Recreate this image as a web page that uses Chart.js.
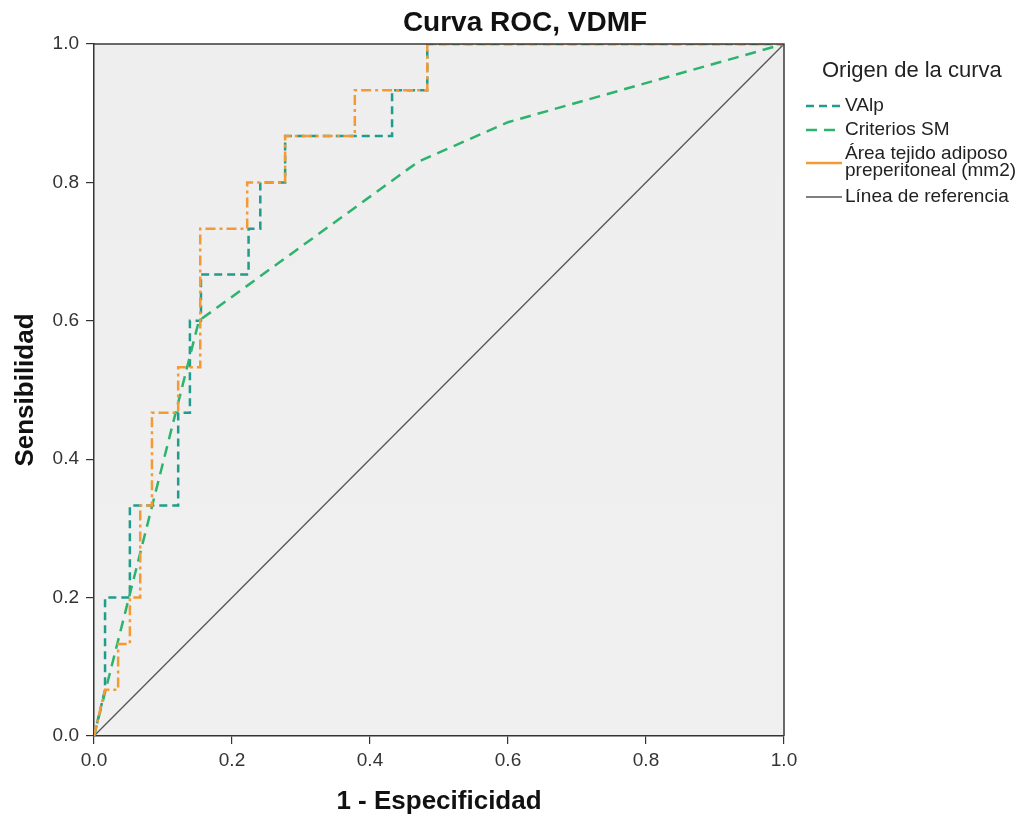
<!DOCTYPE html>
<html>
<head>
<meta charset="utf-8">
<script src="https://cdn.jsdelivr.net/npm/chart.js@4.4.1/dist/chart.umd.min.js"></script>
<style>
  html, body { margin: 0; padding: 0; background: #ffffff; }
  #wrap { width: 1021px; height: 819px; position: relative; }
</style>
</head>
<body>
<div id="wrap"><canvas id="c" width="1021" height="819"></canvas></div>
<script>
// ---- Data ----
const chartTitle = "Curva ROC, VDMF";
const xAxisTitle = "1 - Especificidad";
const yAxisTitle = "Sensibilidad";
const legendTitle = "Origen de la curva";
const seriesNames = ["VAlp", "Criterios SM", ["Área tejido adiposo", "preperitoneal (mm2)"], "Línea de referencia"];
const tickValues = [0.0, 0.2, 0.4, 0.6, 0.8, 1.0];

const vAlpX = [0, 0.016, 0.016, 0.052, 0.052, 0.122, 0.122, 0.139, 0.139, 0.155, 0.155, 0.224, 0.224, 0.241, 0.241, 0.277, 0.277, 0.432, 0.432, 0.483, 0.483, 1];
const vAlpY = [0, 0.067, 0.200, 0.200, 0.333, 0.333, 0.467, 0.467, 0.600, 0.600, 0.667, 0.667, 0.733, 0.733, 0.800, 0.800, 0.867, 0.867, 0.933, 0.933, 1.000, 1];

const critX = [0, 0.152, 0.470, 0.600, 1];
const critY = [0, 0.600, 0.830, 0.887, 1];

const areaX = [0, 0.016, 0.035, 0.035, 0.052, 0.052, 0.067, 0.067, 0.084, 0.084, 0.122, 0.122, 0.154, 0.154, 0.222, 0.222, 0.277, 0.277, 0.378, 0.378, 0.483, 0.483, 1];
const areaY = [0, 0.067, 0.067, 0.133, 0.133, 0.200, 0.200, 0.333, 0.333, 0.467, 0.467, 0.533, 0.533, 0.733, 0.733, 0.800, 0.800, 0.867, 0.867, 0.933, 0.933, 1.000, 1];

const refX = [0, 1];
const refY = [0, 1];

// ---- Styles ----
const COL_VALP = "#1f9c8c";
const COL_CRIT = "#2db36e";
const COL_AREA = "#f39a35";
const COL_REF = "#555555";
const DASH_VALP = [8, 5];
const DASH_CRIT = [11, 7];
const DASH_AREA = [10, 4, 3, 4];
const FONT = "'Liberation Sans', Arial, sans-serif";

const toPts = (xs, ys) => xs.map((x, i) => ({ x: x, y: ys[i] }));

const bgPlugin = {
  id: 'bgPlugin',
  beforeDraw(chart) {
    const { ctx, chartArea: a } = chart;
    ctx.save();
    const g = ctx.createLinearGradient(0, a.top, 0, a.bottom);
    g.addColorStop(0, '#eeeeee');
    g.addColorStop(1, '#f0f0f0');
    ctx.fillStyle = g;
    ctx.fillRect(a.left, a.top, a.right - a.left, a.bottom - a.top);
    ctx.restore();
  },
  afterDatasetsDraw(chart) {
    const { ctx, chartArea: a } = chart;
    ctx.save();
    ctx.strokeStyle = '#3a3a3a';
    ctx.lineWidth = 1.5;
    ctx.beginPath();
    ctx.moveTo(a.left, a.top);
    ctx.lineTo(a.right, a.top);
    ctx.lineTo(a.right, a.bottom);
    ctx.stroke();
    ctx.restore();
  },
  afterDraw(chart) {
    const ctx = chart.ctx;
    ctx.save();
    // title
    ctx.fillStyle = '#111111';
    ctx.font = "bold 28px " + FONT;
    ctx.textAlign = 'center';
    ctx.textBaseline = 'middle';
    ctx.fillText(chartTitle, 525, 23);
    // legend
    ctx.textAlign = 'left';
    ctx.fillStyle = '#222222';
    ctx.font = "22px " + FONT;
    ctx.fillText(legendTitle, 822, 71);
    ctx.font = "19px " + FONT;
    const items = [
      { name: seriesNames[0], color: COL_VALP, dash: DASH_VALP, y: 106, lw: 2.5 },
      { name: seriesNames[1], color: COL_CRIT, dash: DASH_CRIT, y: 130, lw: 2.5 },
      { name: seriesNames[2], color: COL_AREA, dash: [], y: 163, lw: 2.5 },
      { name: seriesNames[3], color: COL_REF, dash: [], y: 197, lw: 1.3 }
    ];
    items.forEach(it => {
      ctx.strokeStyle = it.color;
      ctx.lineWidth = it.lw;
      ctx.setLineDash(it.dash);
      ctx.beginPath();
      ctx.moveTo(806, it.y);
      ctx.lineTo(842, it.y);
      ctx.stroke();
      ctx.setLineDash([]);
      if (Array.isArray(it.name)) {
        ctx.fillText(it.name[0], 845, it.y - 9);
        ctx.fillText(it.name[1], 845, it.y + 8);
      } else {
        ctx.fillText(it.name, 845, it.y);
      }
    });
    ctx.restore();
  }
};

new Chart(document.getElementById('c'), {
  type: 'scatter',
  data: {
    datasets: [
      { label: 'Línea de referencia', data: toPts(refX, refY), showLine: true, borderColor: COL_REF, borderWidth: 1.3, pointRadius: 0, order: 4 },
      { label: 'VAlp', data: toPts(vAlpX, vAlpY), showLine: true, borderColor: COL_VALP, borderWidth: 2.5, borderDash: DASH_VALP, pointRadius: 0, order: 3 },
      { label: 'Criterios SM', data: toPts(critX, critY), showLine: true, borderColor: COL_CRIT, borderWidth: 2.5, borderDash: DASH_CRIT, pointRadius: 0, order: 2 },
      { label: 'Área tejido adiposo preperitoneal (mm2)', data: toPts(areaX, areaY), showLine: true, borderColor: COL_AREA, borderWidth: 2.5, borderDash: DASH_AREA, pointRadius: 0, order: 1 }
    ]
  },
  options: {
    responsive: false,
    animation: false,
    devicePixelRatio: 1,
    layout: { padding: { left: 0, right: 237, top: 44, bottom: 0 } },
    plugins: { legend: { display: false }, tooltip: { enabled: false }, title: { display: false } },
    scales: {
      x: {
        type: 'linear', min: 0, max: 1,
        afterFit(s) { s.height = 83; },
        afterBuildTicks(s) { s.ticks = tickValues.map(v => ({ value: v })); },
        ticks: { padding: 5, color: '#333333', font: { family: FONT, size: 19 }, callback: v => Number(v).toFixed(1), maxRotation: 0 },
        grid: { drawOnChartArea: false, drawTicks: true, tickLength: 8, color: '#333333', lineWidth: 1.2 },
        border: { display: true, color: '#333333', width: 1.5 },
        title: { display: true, text: xAxisTitle, color: '#111111', font: { family: FONT, size: 26, weight: 'bold' }, padding: { top: 0, bottom: 2 } }
      },
      y: {
        type: 'linear', min: 0, max: 1,
        afterFit(s) { s.width = 94; },
        afterBuildTicks(s) { s.ticks = tickValues.map(v => ({ value: v })); },
        ticks: { padding: 7, color: '#333333', font: { family: FONT, size: 19 }, callback: v => Number(v).toFixed(1) },
        grid: { drawOnChartArea: false, drawTicks: true, tickLength: 8, color: '#333333', lineWidth: 1.2 },
        border: { display: true, color: '#333333', width: 1.5 },
        title: { display: true, text: yAxisTitle, color: '#111111', font: { family: FONT, size: 26, weight: 'bold' }, padding: { top: 10, bottom: 0 } }
      }
    }
  },
  plugins: [bgPlugin]
});
</script>
</body>
</html>
